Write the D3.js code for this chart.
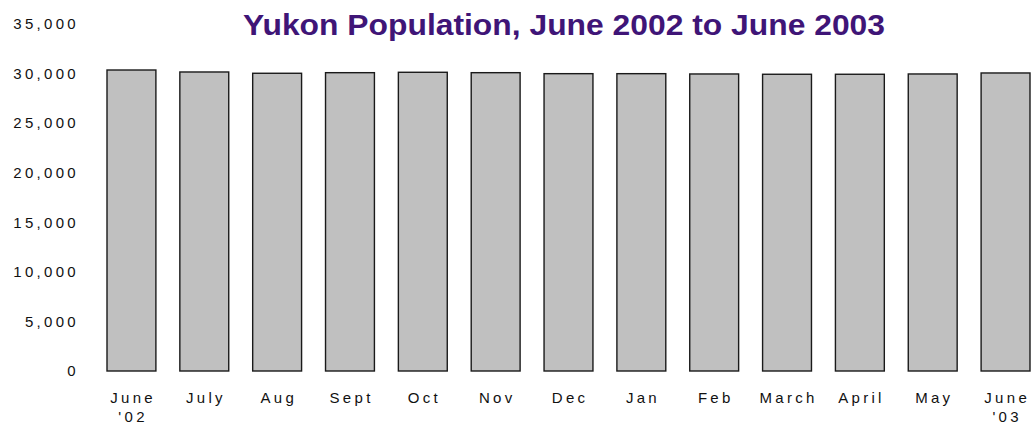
<!DOCTYPE html>
<html>
<head>
<meta charset="utf-8">
<script src="https://cdn.jsdelivr.net/npm/d3@7"></script>
<style>
  body { margin: 0; background: #fff; }
  svg { display: block; font-family: "Liberation Sans", Arial, sans-serif; }
  .axis path, .axis line { display: none; }
  .axis text { font-size: 15px; fill: #111; letter-spacing: 3.3px; }
</style>
</head>
<body>
<script>
// data
const months = ['June', 'July', 'Aug', 'Sept', 'Oct', 'Nov', 'Dec', 'Jan', 'Feb', 'March', 'April', 'May', 'June']
const years = ["'02", '', '', '', '', '', '', '', '', '', '', '', "'03"]
const population = [30360, 30160, 30030, 30090, 30130, 30090, 29990, 29990, 29960, 29930, 29930, 29960, 30060]
const yTicks = [0, 5000, 10000, 15000, 20000, 25000, 30000, 35000]

const W = 1031, H = 427
const svg = d3.select('body').append('svg').attr('width', W).attr('height', H)

const x = d3.scaleBand()
  .domain(months.map((m, i) => i))
  .range([107, 1030])
  .paddingInner(24 / 73)
  .paddingOuter(0)

const y = d3.scaleLinear().domain([0, 35000]).range([371, 24])

// y axis labels only
const axisY = d3.axisLeft(y).tickValues(yTicks).tickSize(0).tickPadding(0)
  .tickFormat(d3.format(','))
svg.append('g').attr('class', 'axis')
  .attr('transform', 'translate(79, 0)')
  .call(axisY)

svg.append('g')
  .selectAll('rect')
  .data(population)
  .enter()
  .append('rect')
  .attr('x', (d, i) => x(i))
  .attr('y', d => y(d))
  .attr('width', x.bandwidth())
  .attr('height', d => y(0) - y(d))
  .attr('fill', '#c0c0c0')
  .attr('stroke', '#1a1a1a')
  .attr('stroke-width', 1.4)

// month labels, two lines
const lab = svg.append('g').attr('class', 'axis')
  .selectAll('g')
  .data(months)
  .enter()
  .append('g')
  .attr('transform', (d, i) => `translate(${x(i) + x.bandwidth() / 2 + 1.6}, 0)`)

lab.append('text')
  .attr('y', 403)
  .attr('text-anchor', 'middle')
  .text(d => d)

lab.append('text')
  .attr('y', 422)
  .attr('text-anchor', 'middle')
  .text((d, i) => years[i])

svg.append('text')
  .attr('x', 564)
  .attr('y', 35)
  .attr('text-anchor', 'middle')
  .attr('font-size', 30)
  .attr('font-weight', 'bold')
  .attr('fill', '#3f1577')
  .attr('textLength', 642)
  .attr('lengthAdjust', 'spacingAndGlyphs')
  .text('Yukon Population, June 2002 to June 2003')
</script>
</body>
</html>
